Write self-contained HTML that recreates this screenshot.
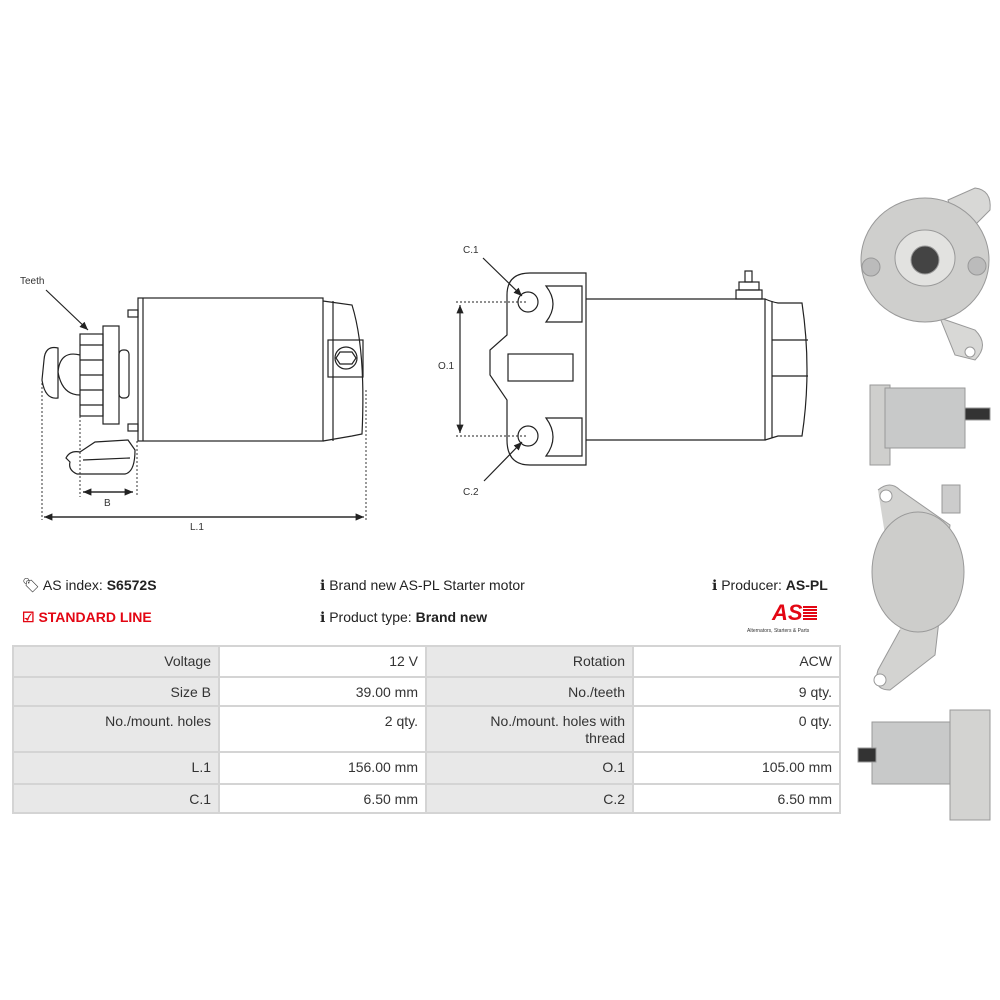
<!DOCTYPE html>
<html><head><meta charset="utf-8"><style>
body{margin:0;width:1000px;height:1000px;background:#fff;font-family:"Liberation Sans",sans-serif;position:relative;overflow:hidden;color:#222}
.t{position:absolute;font-size:14px;white-space:nowrap}
table{position:absolute;left:12px;top:645px;border-collapse:collapse;width:827px;font-size:14px;color:#333;table-layout:fixed}
td{border:2px solid #d4d4d4;text-align:right;padding:0 7px;vertical-align:top;padding-top:6px;line-height:17px;box-sizing:border-box}
td.l{background:#e8e8e8}
</style></head><body>
<svg width="1000" height="1000" style="position:absolute;left:0;top:0" fill="none" stroke="#222" stroke-width="1.2">
<defs><marker id="a" markerWidth="8" markerHeight="8" refX="7" refY="4" orient="auto"><path d="M0,1 L7,4 L0,7z" fill="#222" stroke="none"/></marker></defs>
<text x="20" y="284" font-size="10" fill="#333" stroke="none" font-family="Liberation Sans">Teeth</text>
<line x1="46" y1="290" x2="88" y2="330" marker-end="url(#a)"/>
<rect x="138" y="298" width="185" height="143"/>
<line x1="143" y1="298" x2="143" y2="441"/>
<path d="M323,301 L352,305 Q366,350 362,434 L352,436 L323,441"/>
<line x1="333" y1="301" x2="333" y2="441"/>
<rect x="328" y="340" width="35" height="37"/>
<circle cx="346" cy="358" r="11"/><polygon points="340,352 352,352 356,358 352,364 340,364 336,358"/>
<rect x="128" y="310" width="10" height="7"/><rect x="128" y="424" width="10" height="7"/>
<rect x="80" y="334" width="23" height="82"/>
<line x1="80" y1="345" x2="103" y2="345"/><line x1="80" y1="360" x2="103" y2="360"/><line x1="80" y1="375" x2="103" y2="375"/><line x1="80" y1="390" x2="103" y2="390"/><line x1="80" y1="405" x2="103" y2="405"/>
<rect x="103" y="326" width="16" height="98"/>
<rect x="119" y="350" width="10" height="48" rx="4"/>
<path d="M80,355 Q60,350 58,372 Q62,395 80,395"/>
<path d="M58,348 Q45,345 44,360 L42,380 Q45,400 58,398 Z"/>
<path d="M128,440 L135,450 Q135,472 125,474 L77,474 Q68,470 70,462 L66,458 Q70,450 80,452 L95,442 Z"/>
<line x1="83" y1="460" x2="130" y2="458"/>
<g stroke-dasharray="2,2" stroke-width="0.9"><line x1="42" y1="383" x2="42" y2="520"/><line x1="80" y1="412" x2="80" y2="497"/><line x1="137" y1="441" x2="137" y2="497"/><line x1="366" y1="390" x2="366" y2="520"/></g>
<line x1="83" y1="492" x2="133" y2="492" marker-end="url(#a)"/><line x1="133" y1="492" x2="83" y2="492" marker-end="url(#a)"/>
<line x1="46" y1="517" x2="364" y2="517" marker-end="url(#a)"/><line x1="362" y1="517" x2="44" y2="517" marker-end="url(#a)"/>
<text x="104" y="506" font-size="10" fill="#333" stroke="none" font-family="Liberation Sans">B</text>
<text x="190" y="530" font-size="10" fill="#333" stroke="none" font-family="Liberation Sans">L.1</text>
<text x="463" y="253" font-size="10" fill="#333" stroke="none" font-family="Liberation Sans">C.1</text>
<text x="463" y="495" font-size="10" fill="#333" stroke="none" font-family="Liberation Sans">C.2</text>
<text x="438" y="369" font-size="10" fill="#333" stroke="none" font-family="Liberation Sans">O.1</text>
<path d="M530,273 L586,273 L586,465 L530,465 Q507,465 507,440 L507,400 L490,375 L490,350 L507,335 L507,295 Q507,273 530,273 Z"/>
<circle cx="528" cy="302" r="10"/><circle cx="528" cy="436" r="10"/>
<path d="M546,286 L582,286 L582,322 L546,322 Q560,304 546,286Z"/>
<path d="M546,418 L582,418 L582,456 L546,456 Q560,437 546,418Z"/>
<rect x="508" y="354" width="65" height="27"/>
<path d="M586,299 L765,299 L765,440 L586,440"/>
<path d="M765,299 Q772,302 778,303 L802,303 Q812,370 802,436 L778,436 L765,440"/>
<line x1="772" y1="301" x2="772" y2="438"/><line x1="772" y1="340" x2="808" y2="340"/><line x1="772" y1="376" x2="808" y2="376"/>
<rect x="736" y="290" width="26" height="9"/><rect x="739" y="282" width="20" height="8"/><rect x="745" y="271" width="7" height="11"/>
<g stroke-dasharray="2,2" stroke-width="0.9"><line x1="456" y1="302" x2="528" y2="302"/><line x1="456" y1="436" x2="528" y2="436"/></g>
<line x1="460" y1="370" x2="460" y2="305" marker-end="url(#a)"/><line x1="460" y1="370" x2="460" y2="433" marker-end="url(#a)"/>
<line x1="483" y1="258" x2="522" y2="296" marker-end="url(#a)"/>
<line x1="484" y1="481" x2="522" y2="442" marker-end="url(#a)"/>
<g stroke="#999" stroke-width="1">
<path d="M948,200 L975,188 Q992,190 990,210 L960,240Z" fill="#d8d8d6"/>
<path d="M940,318 L975,330 Q990,345 975,360 L955,355 Z" fill="#d8d8d6"/>
<ellipse cx="925" cy="260" rx="64" ry="62" fill="#cfcfcd"/>
<ellipse cx="925" cy="258" rx="30" ry="28" fill="#e2e2e0"/>
<circle cx="925" cy="260" r="14" fill="#444"/>
<circle cx="871" cy="267" r="9" fill="#bbb"/><circle cx="977" cy="266" r="9" fill="#bbb"/>
<circle cx="970" cy="352" r="5" fill="#fff"/>
<rect x="870" y="385" width="20" height="80" fill="#cfcfcd"/>
<rect x="885" y="388" width="80" height="60" fill="#c8c9c9"/>
<rect x="965" y="408" width="25" height="12" fill="#333"/>
<path d="M878,490 Q890,480 900,490 L950,525 L935,655 L890,690 Q872,690 878,670 L900,630" fill="#d3d3d1"/>
<ellipse cx="918" cy="572" rx="46" ry="60" fill="#cdcdcb"/>
<rect x="942" y="485" width="18" height="28" fill="#ccc"/>
<circle cx="886" cy="496" r="6" fill="#fff"/><circle cx="880" cy="680" r="6" fill="#fff"/>
<rect x="872" y="722" width="80" height="62" fill="#c8c9c9"/>
<rect x="950" y="710" width="40" height="110" fill="#d3d3d1"/>
<rect x="858" y="748" width="18" height="14" fill="#333"/>
</g>
</svg>
<div class="t" style="left:22px;top:577px">🏷&#xFE0E; AS index: <b>S6572S</b></div>
<div class="t" style="left:22px;top:609px;color:#e30613;font-weight:bold">☑ STANDARD LINE</div>
<div class="t" style="left:320px;top:577px">ℹ Brand new AS-PL Starter motor</div>
<div class="t" style="left:320px;top:609px">ℹ Product type: <b>Brand new</b></div>
<div class="t" style="left:712px;top:577px">ℹ Producer: <b>AS-PL</b></div>
<div class="t" style="left:772px;top:600px;font-size:22px;font-style:italic;font-weight:bold;color:#e30613">AS<span style="display:inline-block;width:14px;height:14px;background:repeating-linear-gradient(#e30613 0 2px,#fff 2px 3px)"></span></div>
<div class="t" style="left:747px;top:628px;font-size:5px;color:#333">Alternators, Starters &amp; Parts</div>
<table>
<colgroup><col style="width:206px"><col style="width:207px"><col style="width:207px"><col style="width:207px"></colgroup>
<tr style="height:31px"><td class="l">Voltage</td><td>12 V</td><td class="l">Rotation</td><td>ACW</td></tr>
<tr style="height:29px"><td class="l">Size B</td><td>39.00 mm</td><td class="l">No./teeth</td><td>9 qty.</td></tr>
<tr style="height:46px"><td class="l">No./mount. holes</td><td>2 qty.</td><td class="l" style="padding-left:30px">No./mount. holes with thread</td><td>0 qty.</td></tr>
<tr style="height:32px"><td class="l">L.1</td><td>156.00 mm</td><td class="l">O.1</td><td>105.00 mm</td></tr>
<tr style="height:29px"><td class="l">C.1</td><td>6.50 mm</td><td class="l">C.2</td><td>6.50 mm</td></tr>
</table>
</body></html>
